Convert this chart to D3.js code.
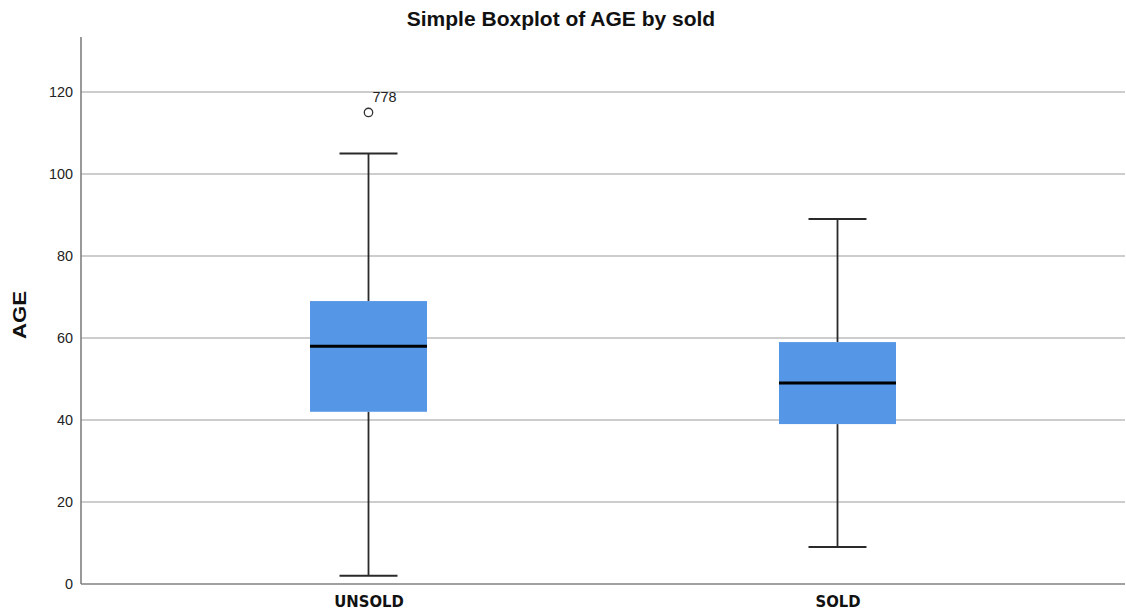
<!DOCTYPE html>
<html>
<head>
<meta charset="utf-8">
<script src="https://cdn.jsdelivr.net/npm/d3@7"></script>
<style>
  html, body { margin: 0; padding: 0; background: #fff; }
  svg { display: block; font-family: "Liberation Sans", Arial, sans-serif; }
</style>
</head>
<body>
<svg id="chart" width="1126" height="612"></svg>
<script>
// Box summary statistics per group (AGE)
const categories = ["UNSOLD", "SOLD"];
const whiskerLow  = [2, 9];
const q1          = [42, 39];
const median      = [58, 49];
const q3          = [69, 59];
const whiskerHigh = [105, 89];
const outliers    = [{ group: "UNSOLD", value: 115, id: "778" }];
const yTicks      = [0, 20, 40, 60, 80, 100, 120];

(function () {
const svg = d3.select("#chart");
const plotL = 81, plotR = 1125, plotT = 37, plotB = 584;

const y = d3.scaleLinear().domain([0, 133.4]).range([plotB, plotT]);
const x = d3.scalePoint().domain(categories).range([plotL, plotR]).padding(0.613);

const boxW = 117, capW = 58;

// gridlines
svg.append("g").selectAll("line").data(yTicks.filter(d => d > 0)).join("line")
  .attr("x1", plotL).attr("x2", plotR)
  .attr("y1", d => y(d)).attr("y2", d => y(d))
  .attr("stroke", "#bcbcbc").attr("stroke-width", 1.6);

// y axis
const yAxis = svg.append("g").attr("transform", `translate(${plotL},0)`)
  .call(d3.axisLeft(y).tickValues(yTicks).tickSize(0).tickPadding(8));
yAxis.select(".domain").attr("stroke", "#808080").attr("stroke-width", 1.6)
  .attr("d", `M0,${plotT}V${plotB}`);
yAxis.selectAll("text").attr("font-size", 14.4).attr("fill", "#222")
  .attr("font-family", "'Liberation Sans', Arial, sans-serif");

// x axis
const xAxis = svg.append("g").attr("transform", `translate(0,${plotB})`)
  .call(d3.axisBottom(x).tickSize(0).tickPadding(11));
xAxis.select(".domain").attr("stroke", "#808080").attr("stroke-width", 1.6)
  .attr("d", `M${plotL},0H${plotR}`);
xAxis.selectAll("text").attr("font-size", 16.5).attr("font-weight", "bold").attr("fill", "#111")
  .attr("font-family", "'DejaVu Sans Condensed', 'Liberation Sans', Arial, sans-serif");

const groups = categories.map((c, i) => ({
  c, lo: whiskerLow[i], q1: q1[i], med: median[i], q3: q3[i], hi: whiskerHigh[i]
}));

const g = svg.append("g").selectAll("g").data(groups).join("g")
  .attr("transform", d => `translate(${x(d.c)},0)`);

// whisker stems
g.append("line").attr("x1", 0).attr("x2", 0)
  .attr("y1", d => y(d.hi)).attr("y2", d => y(d.q3))
  .attr("stroke", "#2a2a2a").attr("stroke-width", 1.8);
g.append("line").attr("x1", 0).attr("x2", 0)
  .attr("y1", d => y(d.q1)).attr("y2", d => y(d.lo))
  .attr("stroke", "#2a2a2a").attr("stroke-width", 1.8);
// caps
g.append("line").attr("x1", -capW / 2).attr("x2", capW / 2)
  .attr("y1", d => y(d.hi)).attr("y2", d => y(d.hi))
  .attr("stroke", "#2a2a2a").attr("stroke-width", 2);
g.append("line").attr("x1", -capW / 2).attr("x2", capW / 2)
  .attr("y1", d => y(d.lo)).attr("y2", d => y(d.lo))
  .attr("stroke", "#2a2a2a").attr("stroke-width", 2);
// box
g.append("rect").attr("x", -boxW / 2).attr("width", boxW)
  .attr("y", d => y(d.q3)).attr("height", d => y(d.q1) - y(d.q3))
  .attr("fill", "#5597e6");
// median
g.append("line").attr("x1", -boxW / 2).attr("x2", boxW / 2)
  .attr("y1", d => y(d.med)).attr("y2", d => y(d.med))
  .attr("stroke", "#000").attr("stroke-width", 3);

// outliers
const o = svg.append("g").selectAll("g").data(outliers).join("g");
o.append("circle").attr("cx", d => x(d.group)).attr("cy", d => y(d.value)).attr("r", 4.2)
  .attr("fill", "none").attr("stroke", "#333").attr("stroke-width", 1.3);
o.append("text").attr("x", d => x(d.group) + 4).attr("y", d => y(d.value) - 10)
  .attr("font-size", 14.4).attr("fill", "#222").text(d => d.id);

// title
svg.append("text").attr("x", 561).attr("y", 26).attr("text-anchor", "middle")
  .attr("font-size", 21).attr("font-weight", "bold").attr("fill", "#111")
  .text("Simple Boxplot of AGE by sold");

// y title
svg.append("text").attr("transform", "translate(26,315) rotate(-90)")
  .attr("text-anchor", "middle").attr("font-size", 19).attr("font-weight", "bold").attr("fill", "#111")
  .attr("textLength", 48).attr("lengthAdjust", "spacingAndGlyphs")
  .text("AGE");
})();
</script>
</body>
</html>
